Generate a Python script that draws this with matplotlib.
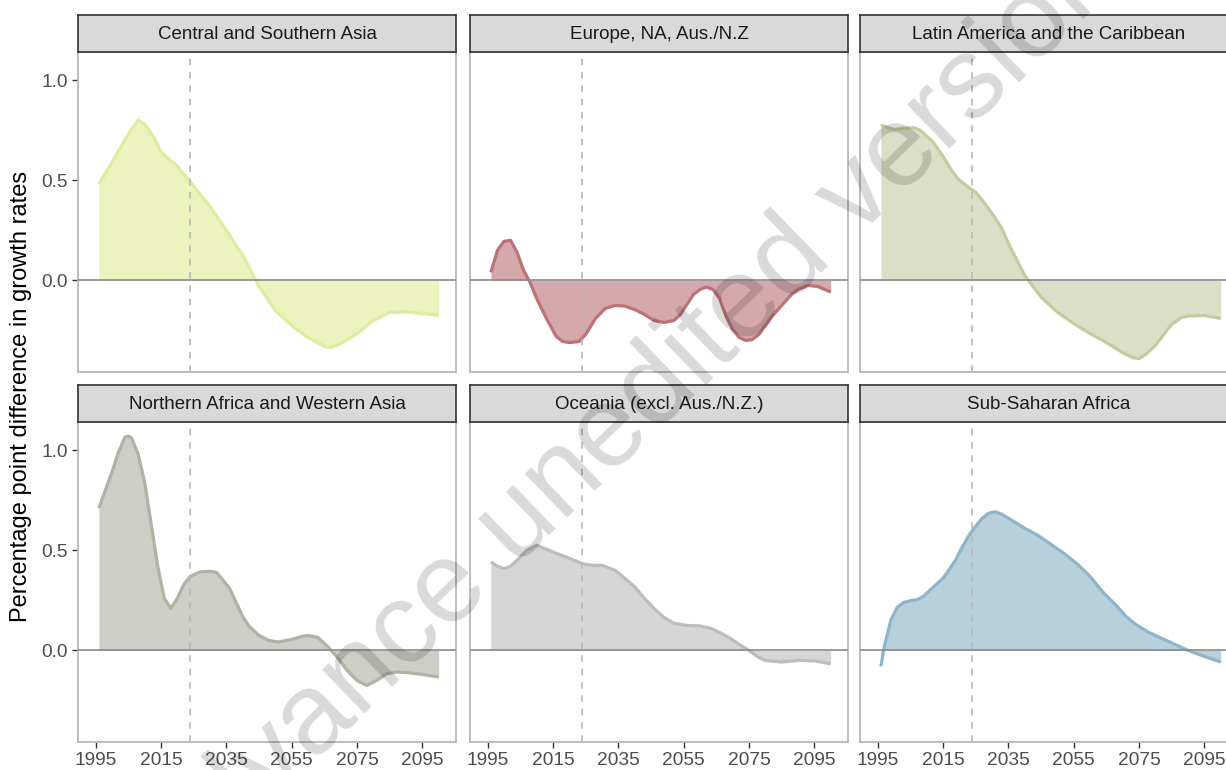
import matplotlib
matplotlib.use("Agg")
import matplotlib.pyplot as plt

plt.rcParams['font.family'] = ['Liberation Sans', 'DejaVu Sans']

# facet titles, in panel order (row by row)
regions = ["Central and Southern Asia", "Europe, NA, Aus./N.Z",
           "Latin America and the Caribbean", "Northern Africa and Western Asia",
           "Oceania (excl. Aus./N.Z.)", "Sub-Saharan Africa"]

# values
cs_asia_years = [1996, 2000, 2005, 2008, 2010, 2013, 2015, 2020, 2025, 2030, 2035, 2040,
                 2045, 2050, 2055, 2060, 2065, 2067, 2070, 2075, 2080, 2085, 2090, 2095, 2100]
cs_asia_vals = [0.48, 0.59, 0.73, 0.80, 0.78, 0.71, 0.64, 0.57, 0.47, 0.37, 0.25, 0.125,
                -0.03, -0.15, -0.225, -0.285, -0.33, -0.335, -0.315, -0.265, -0.20, -0.16,
                -0.157, -0.165, -0.175]

europe_years = [1996, 1998, 2000, 2002, 2004, 2006, 2008, 2010, 2013, 2016, 2018, 2020, 2023,
                2025, 2028, 2031, 2034, 2037, 2040, 2043, 2046, 2049, 2052, 2054, 2056, 2058,
                2060, 2062, 2064, 2066, 2068, 2070, 2072, 2074, 2076, 2078, 2080, 2082, 2085,
                2088, 2090, 2093, 2096, 2100]
europe_vals = [0.04, 0.15, 0.195, 0.20, 0.14, 0.05, -0.01, -0.09, -0.19, -0.28, -0.305, -0.31,
               -0.305, -0.27, -0.19, -0.14, -0.125, -0.128, -0.145, -0.17, -0.20, -0.21, -0.20,
               -0.17, -0.12, -0.07, -0.045, -0.033, -0.045, -0.09, -0.18, -0.245, -0.285,
               -0.30, -0.295, -0.27, -0.225, -0.18, -0.125, -0.07, -0.045, -0.025, -0.03,
               -0.058]

latam_years = [1996, 2000, 2003, 2006, 2008, 2010, 2012, 2015, 2018, 2020, 2023, 2025, 2028,
               2030, 2033, 2035, 2038, 2040, 2043, 2045, 2050, 2055, 2060, 2065, 2070, 2073,
               2075, 2077, 2080, 2083, 2085, 2088, 2090, 2095, 2100]
latam_vals = [0.775, 0.753, 0.76, 0.762, 0.75, 0.72, 0.69, 0.62, 0.54, 0.50, 0.462, 0.44, 0.38,
              0.335, 0.26, 0.185, 0.09, 0.025, -0.04, -0.083, -0.158, -0.215, -0.265, -0.31,
              -0.36, -0.385, -0.39, -0.37, -0.325, -0.26, -0.22, -0.185, -0.178, -0.175, -0.19]

nafrica_years = [1996, 1998, 2000, 2002, 2004, 2005, 2006, 2008, 2010, 2012, 2014, 2016, 2018,
                 2020, 2022, 2024, 2027, 2030, 2032, 2034, 2036, 2038, 2040, 2042, 2045, 2048,
                 2051, 2055, 2058, 2060, 2063, 2066, 2069, 2072, 2075, 2078, 2081, 2084, 2087,
                 2090, 2095, 2100]
nafrica_vals = [0.71, 0.80, 0.89, 0.99, 1.065, 1.07, 1.06, 0.98, 0.84, 0.63, 0.42, 0.26, 0.21,
                0.26, 0.33, 0.37, 0.392, 0.395, 0.39, 0.35, 0.31, 0.24, 0.17, 0.12, 0.075, 0.05,
                0.042, 0.055, 0.07, 0.075, 0.065, 0.02, -0.035, -0.10, -0.15, -0.175, -0.15,
                -0.117, -0.108, -0.11, -0.12, -0.133]

oceania_years = [1996, 1998, 2000, 2002, 2004, 2007, 2010, 2013, 2016, 2020, 2024, 2027, 2030,
                 2034, 2037, 2040, 2043, 2046, 2049, 2052, 2056, 2060, 2063, 2066, 2069, 2072,
                 2075, 2078, 2080, 2085, 2090, 2095, 2100]
oceania_vals = [0.442, 0.42, 0.408, 0.42, 0.45, 0.50, 0.525, 0.505, 0.485, 0.46, 0.433, 0.425,
                0.425, 0.40, 0.36, 0.317, 0.26, 0.208, 0.165, 0.135, 0.125, 0.122, 0.112, 0.09,
                0.063, 0.03, 0.0, -0.035, -0.05, -0.058, -0.05, -0.052, -0.067]

ssa_years = [1996, 1997, 1999, 2001, 2003, 2005, 2007, 2009, 2011, 2013, 2015, 2017, 2019,
             2021, 2023, 2025, 2027, 2029, 2031, 2033, 2036, 2040, 2044, 2048, 2052, 2056,
             2060, 2064, 2068, 2071, 2074, 2078, 2082, 2086, 2090, 2095, 2100]
ssa_vals = [-0.08, 0.017, 0.15, 0.215, 0.24, 0.248, 0.253, 0.27, 0.30, 0.33, 0.36, 0.405,
            0.455, 0.52, 0.575, 0.62, 0.66, 0.685, 0.692, 0.68, 0.65, 0.61, 0.575, 0.53,
            0.485, 0.433, 0.37, 0.29, 0.225, 0.17, 0.13, 0.09, 0.06, 0.03, 0.0, -0.03, -0.058]

series = [(cs_asia_years, cs_asia_vals), (europe_years, europe_vals),
          (latam_years, latam_vals), (nafrica_years, nafrica_vals),
          (oceania_years, oceania_vals), (ssa_years, ssa_vals)]

fill_colors = ["#ecf3bf", "#d5a9ab", "#dcdfc7", "#cdcec5", "#d6d6d6", "#b8d0dc"]
line_colors = ["#e0eba0", "#bc7377", "#c5cb9f", "#afb3a3", "#bdbdbd", "#8fb5c8"]

x_ticks = [1995, 2015, 2035, 2055, 2075, 2095]
y_ticks = [0.0, 0.5, 1.0]
base_year = 2024

fig = plt.figure(figsize=(12.26, 7.7), dpi=100)

W, H = 1226.0, 770.0
col_left = [78, 470, 860]
panel_w = 378
row_top = [52, 422]      # pixel y of panel tops
panel_h = 320
strip_h = 37

for i, (name, (yrs, vals)) in enumerate(zip(regions, series)):
    r, c = divmod(i, 3)
    left = col_left[c] / W
    bottom = (H - row_top[r] - panel_h) / H
    ax = fig.add_axes([left, bottom, panel_w / W, panel_h / H])

    ax.fill_between(yrs, 0, vals, color=fill_colors[i], lw=0, zorder=1)
    ax.plot(yrs, vals, color=line_colors[i], lw=2.3, zorder=2, solid_capstyle='butt')
    ax.axhline(0, color="#8a8a8a", lw=1.2, zorder=3)
    ax.axvline(base_year, color="#b8b8b8", lw=1.2, ls=(0, (4, 4)), zorder=3)

    ax.set_xlim(1989.6, 2105.3)
    ax.set_ylim(-0.457, 1.14)
    ax.set_xticks(x_ticks)
    ax.set_yticks(y_ticks)
    ax.set_yticklabels(["0.0", "0.5", "1.0"])
    ax.tick_params(colors="#333333", labelcolor="#4d4d4d", labelsize=13.8,
                   length=4, width=1, pad=3.5)
    if r == 0:
        ax.tick_params(axis='x', bottom=False, labelbottom=False)
    if c != 0:
        ax.tick_params(axis='y', left=False, labelleft=False)
    for sp in ax.spines.values():
        sp.set_color("#b8b8b8")
        sp.set_linewidth(1.3)

    # facet strip
    sax = fig.add_axes([left, (H - row_top[r]) / H, panel_w / W, strip_h / H])
    sax.set_facecolor("#d9d9d9")
    sax.set_xticks([])
    sax.set_yticks([])
    for sp in sax.spines.values():
        sp.set_color("#333333")
        sp.set_linewidth(1.2)
    sax.text(0.5, 0.47, name, ha='center', va='center', fontsize=13.5, color="#1a1a1a",
             transform=sax.transAxes)

fig.text(0.017, 0.485, "Percentage point difference in growth rates", rotation=90,
         ha='center', va='center', fontsize=17, color="black")

# watermark
fig.text(0.511, 0.456, "Advance unedited version", rotation=44, fontsize=83,
         color="black", alpha=0.15, ha='center', va='center', zorder=10)

fig.savefig("out.png", dpi=100)
